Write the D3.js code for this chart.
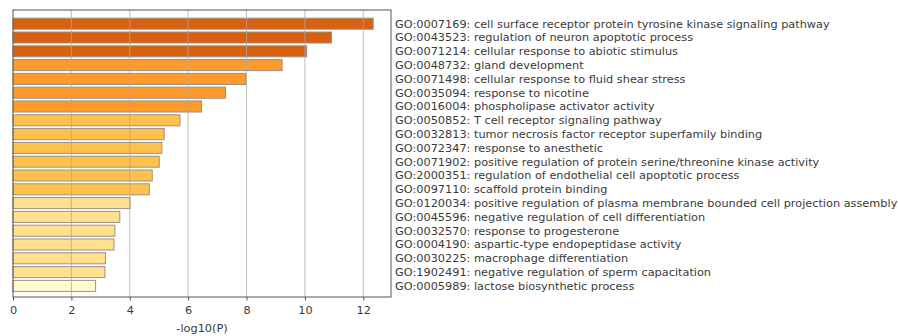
<!DOCTYPE html>
<html>
<head>
<meta charset="utf-8">
<script src="https://cdn.jsdelivr.net/npm/d3@7"></script>
<style>
  html, body { margin: 0; padding: 0; background: #fff; }
  svg { display: block; font-family: "DejaVu Sans", sans-serif; }
</style>
</head>
<body>
<svg id="chart" width="898" height="336"></svg>
<script>
// Enriched GO terms, ordered by significance
const termIds = [
  "GO:0007169", "GO:0043523", "GO:0071214", "GO:0048732", "GO:0071498",
  "GO:0035094", "GO:0016004", "GO:0050852", "GO:0032813", "GO:0072347",
  "GO:0071902", "GO:2000351", "GO:0097110", "GO:0120034", "GO:0045596",
  "GO:0032570", "GO:0004190", "GO:0030225", "GO:1902491", "GO:0005989"
];
const termNames = [
  "cell surface receptor protein tyrosine kinase signaling pathway",
  "regulation of neuron apoptotic process",
  "cellular response to abiotic stimulus",
  "gland development",
  "cellular response to fluid shear stress",
  "response to nicotine",
  "phospholipase activator activity",
  "T cell receptor signaling pathway",
  "tumor necrosis factor receptor superfamily binding",
  "response to anesthetic",
  "positive regulation of protein serine/threonine kinase activity",
  "regulation of endothelial cell apoptotic process",
  "scaffold protein binding",
  "positive regulation of plasma membrane bounded cell projection assembly",
  "negative regulation of cell differentiation",
  "response to progesterone",
  "aspartic-type endopeptidase activity",
  "macrophage differentiation",
  "negative regulation of sperm capacitation",
  "lactose biosynthetic process"
];
// -log10(P) for each term
const logP = [
  12.34, 10.91, 10.06, 9.22, 7.97, 7.28, 6.46, 5.72, 5.18, 5.10,
  5.01, 4.77, 4.67, 4.01, 3.66, 3.49, 3.46, 3.17, 3.15, 2.83
];
const xTicks = [0, 2, 4, 6, 8, 10, 12];
const xTitle = "-log10(P)";

const svg = d3.select("#chart");
const box = { left: 13, right: 391, top: 10, bottom: 297 };

const x = d3.scaleLinear().domain([0, 12.95]).range([box.left, box.right]);
const y = d3.scaleBand()
  .domain(termIds)
  .range([16.8, 292.8])
  .paddingInner(0.2)
  .paddingOuter(0.1);

// significance bins → colour
const color = d3.scaleThreshold()
  .domain([3, 4.3, 6, 10])
  .range(["#fffbcc", "#fee08f", "#fec24c", "#fd9a2b", "#d9600f"]);

const rows = termIds.map((id, i) => ({ id, name: termNames[i], v: logP[i] }));

// bars
svg.append("g")
  .selectAll("rect")
  .data(rows)
  .join("rect")
  .attr("x", x(0))
  .attr("y", d => y(d.id))
  .attr("width", d => x(d.v) - x(0))
  .attr("height", y.bandwidth())
  .attr("fill", d => color(d.v))
  .attr("stroke", "#9a9288")
  .attr("stroke-width", 1);

// vertical grid
svg.append("g")
  .selectAll("line")
  .data(xTicks.filter(t => t > 0))
  .join("line")
  .attr("x1", d => x(d)).attr("x2", d => x(d))
  .attr("y1", box.top).attr("y2", box.bottom)
  .attr("stroke", "#a8a8a8")
  .attr("stroke-opacity", 0.75)
  .attr("stroke-width", 1);

// frame
svg.append("rect")
  .attr("x", box.left).attr("y", box.top)
  .attr("width", box.right - box.left)
  .attr("height", box.bottom - box.top)
  .attr("fill", "none")
  .attr("stroke", "#555")
  .attr("stroke-width", 1);

// x axis
const xAxis = d3.axisBottom(x).tickValues(xTicks).tickSize(3.5).tickPadding(5).tickFormat(d3.format("d"));
const gx = svg.append("g")
  .attr("transform", `translate(0,${box.bottom})`)
  .call(xAxis);
gx.select(".domain").remove();
gx.selectAll(".tick line").attr("stroke", "#555");
gx.selectAll(".tick text")
  .attr("fill", "#3a3a3a")
  .style("font-family", "DejaVu Sans, sans-serif")
  .style("font-size", "11.3px");

svg.append("text")
  .attr("x", (box.left + box.right) / 2)
  .attr("y", 332)
  .attr("text-anchor", "middle")
  .attr("fill", "#3a3a3a")
  .style("font-size", "11.3px")
  .text(xTitle);

// term labels on the right
svg.append("g")
  .selectAll("text")
  .data(rows)
  .join("text")
  .attr("x", 395)
  .attr("y", d => y(d.id) + y.bandwidth() / 2)
  .attr("dy", "0.35em")
  .attr("fill", "#3a3a3a")
  .style("font-size", "11.3px")
  .text(d => `${d.id}: ${d.name}`);
</script>
</body>
</html>
